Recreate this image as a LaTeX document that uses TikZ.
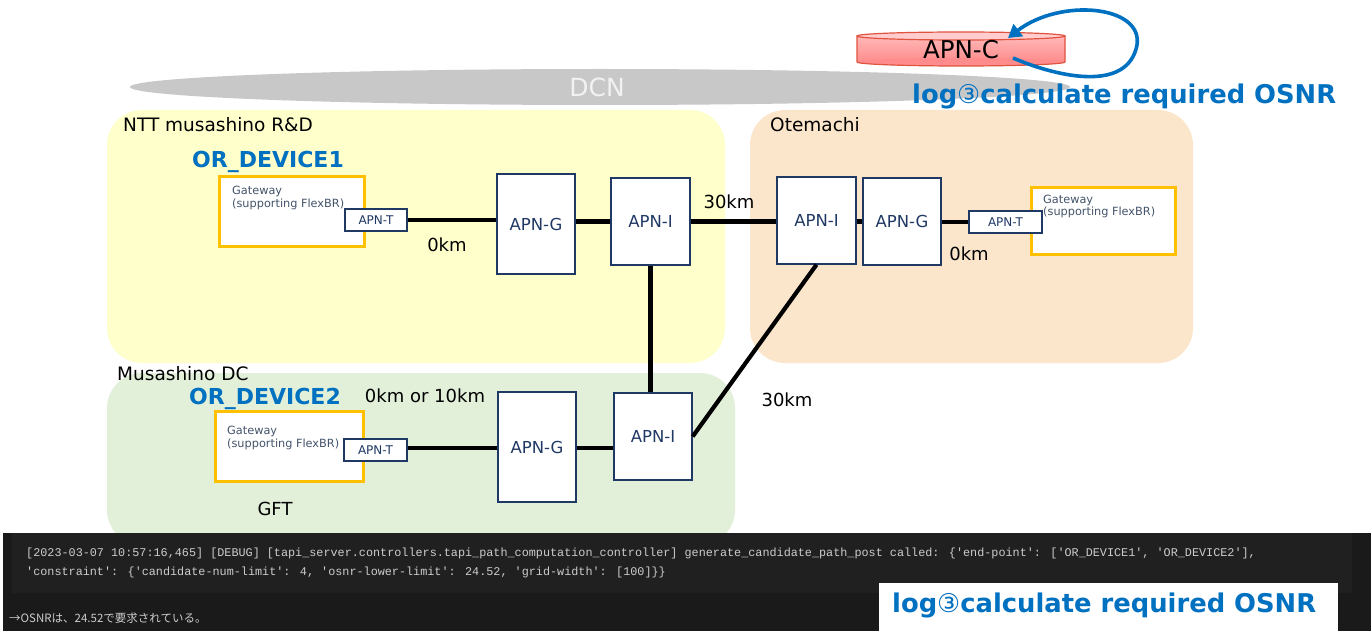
\documentclass[tikz,border=0pt]{standalone}
\usepackage{fontspec}
\setmainfont{DejaVu Sans}
\newfontfamily\codefont{Liberation Mono}[Ligatures=TeXOff]
\newfontfamily\jpfont{Noto Sans CJK JP}
\usetikzlibrary{arrows.meta,calc}
\newcommand\fsz[1]{\fontsize{#1}{#1}\selectfont}
\definecolor{yellowbg}{HTML}{FFFFCC}
\definecolor{orangebg}{HTML}{FCE6CB}
\definecolor{greenbg}{HTML}{E2F0D9}
\definecolor{dcngray}{HTML}{C8C8C8}
\definecolor{oblue}{HTML}{0070C0}
\definecolor{gold}{HTML}{FFC000}
\definecolor{navy}{HTML}{203864}
\definecolor{slate}{HTML}{44546A}
\definecolor{apnctop}{HTML}{FFB8B8}
\definecolor{apncbot}{HTML}{FF8C8C}
\definecolor{apncline}{HTML}{E0533F}
\definecolor{panelbg}{HTML}{1A1A1A}
\definecolor{codebg}{HTML}{202020}
\definecolor{codetxt}{HTML}{CCCCCC}
\begin{document}
\begin{tikzpicture}[x=1pt,y=-1pt,
  region/.style={rounded corners=35pt},
  regionlabel/.style={anchor=west,font=\fsz{18.5},text=black,inner sep=0pt},
  apnbox/.style={draw=navy,line width=1.3pt,fill=white,text=navy,font=\fsz{16.5},inner sep=0pt},
  apnt/.style={draw=navy,line width=1.2pt,fill=white,text=navy,font=\fsz{12},inner sep=0pt,minimum height=22},
  gwbox/.style={draw=gold,line width=3pt,fill=white,inner sep=0pt},
  gwtext/.style={anchor=west,align=left,text=slate,font=\fontsize{11.3}{12.5}\selectfont,inner sep=0pt},
  devlabel/.style={anchor=west,font=\bfseries\fsz{22},text=oblue,inner sep=0pt},
  dist/.style={font=\fsz{18},text=black,inner sep=0pt},
  link/.style={line width=4.2pt,black},
  loglabel/.style={anchor=west,font=\bfseries\fsz{25.8},text=oblue,inner sep=0pt},
  codeline/.style={anchor=west,font=\codefont\fsz{11.8},text=codetxt,inner sep=0pt},
  looparrow/.style={draw=oblue,line width=3.6pt,-{Triangle[length=13pt,width=15pt]}}
]
\useasboundingbox (0,0) rectangle (1371,631);
\fill[white] (0,0) rectangle (1371,631);

% DCN
\fill[dcngray] (600,87) ellipse[x radius=470,y radius=18];
\node[font=\fsz{25},text=white!95!black,inner sep=0pt] (dcn) at (597,87) {DCN};

% APN-C
\shade[top color=apnctop,bottom color=apncbot] (857,36) rectangle (1065,62);
\fill[apncbot] (961,62) ellipse[x radius=104,y radius=4];
\fill[apnctop!70!white] (961,36) ellipse[x radius=104,y radius=4];
\draw[apncline,line width=1.2pt] (961,36) ellipse[x radius=104,y radius=4];
\draw[apncline,line width=1.2pt] (857,36) -- (857,62)
  .. controls (857,64.2) and (903.6,66) .. (961,66)
  .. controls (1018.4,66) and (1065,64.2) .. (1065,62) -- (1065,36);
\node[font=\fsz{24.5},text=black,inner sep=0pt] (apnc) at (961,50) {APN-C};
\coordinate (loopS) at (1013,58);
\coordinate (loopE) at (1008,38);
\draw[looparrow] (loopS) .. controls (1060,78) and (1128,92) .. (1137,45)
  .. controls (1143,5) and (1060,-2) .. (loopE);
\node[loglabel] (logtop) at (912,96) {log{\mdseries ③}calculate required OSNR};

% regions
\fill[yellowbg,region] (107,110) rectangle (725,363);
\fill[orangebg,region] (750,110) rectangle (1193,363);
\fill[greenbg,region] (107,373) rectangle (735,545);
\node[regionlabel] (lbl1) at (123,125) {NTT musashino R\&D};
\node[regionlabel] (lbl2) at (770,125) {Otemachi};
\node[regionlabel] (lbl3) at (117,374) {Musashino DC};

% devices
\node[devlabel] (dev1) at (192,162) {OR\_DEVICE1};
\node[devlabel] (dev2) at (189,399) {OR\_DEVICE2};

\node[gwbox,minimum width=145,minimum height=70] (gw1) at (291.5,212) {};
\node[gwbox,minimum width=144,minimum height=67] (gw2) at (1103,221.5) {};
\node[gwbox,minimum width=148,minimum height=70] (gw3) at (289,446) {};
\node[gwtext] (gw1t) at (232,198) {Gateway\\(supporting FlexBR)};
\node[gwtext] (gw2t) at (1043,206.5) {Gateway\\(supporting FlexBR)};
\node[gwtext] (gw3t) at (227,438) {Gateway\\(supporting FlexBR)};

\node[apnt,minimum width=62] (t1) at (376,220) {APN-T};
\node[apnt,minimum width=73] (t2) at (1005.5,222) {APN-T};
\node[apnt,minimum width=63] (t3) at (375.5,450) {APN-T};

\node[apnbox,minimum width=78,minimum height=100] (g1) at (536,224) {APN-G};
\node[apnbox,minimum width=79,minimum height=87] (i1) at (650.5,221.5) {APN-I};
\node[apnbox,minimum width=79,minimum height=87] (i2) at (816.5,220.5) {APN-I};
\node[apnbox,minimum width=78,minimum height=87] (g2) at (902,221.5) {APN-G};
\node[apnbox,minimum width=78,minimum height=110] (g3) at (537,447) {APN-G};
\node[apnbox,minimum width=78,minimum height=87] (i3) at (653,436.5) {APN-I};

% links
\draw[link] (t1.east) -- (t1.east -| g1.west);
\draw[link] (g1.east |- i1.west) -- (i1.west);
\draw[link] (i1.east) -- (i1.east -| i2.west);
\draw[link] (i2.east |- g2.west) -- (g2.west);
\draw[link] (g2.east |- t2.west) -- (t2.west);
\draw[link] (i1.south) -- (i1.south |- i3.north);
\draw[link] (i2.south) -- (i3.east);
\draw[link] (t3.east |- 0,448) -- (g3.west |- 0,448);
\draw[link] (g3.east |- 0,448) -- (i3.west |- 0,448);

% distance labels
\node[dist] (d1) at (447,245) {0km};
\node[dist] (d2) at (729,202) {30km};
\node[dist] (d3) at (969,254) {0km};
\node[dist] (d4) at (425,396) {0km or 10km};
\node[dist] (d5) at (787,400) {30km};
\node[dist] (d6) at (275,509) {GFT};

% bottom console panel
\fill[panelbg] (3,533) rectangle (1371,631);
\fill[codebg] (12,533) rectangle (1352,593);
\node[codeline] (c1) at (26,553) {[2023-03-07 10:57:16,465] [DEBUG] [tapi\_server.controllers.tapi\_path\_computation\_controller] generate\_candidate\_path\_post called: \{'end-point': ['OR\_DEVICE1', 'OR\_DEVICE2'],};
\node[codeline] (c2) at (26,572) {'constraint': \{'candidate-num-limit': 4, 'osnr-lower-limit': 24.52, 'grid-width': [100]\}\}};
\node[anchor=west,font=\jpfont\fsz{11.5},text=codetxt,inner sep=0pt] (jp) at (9,618) {→OSNRは、24.52で要求されている。};
\fill[white] (879,583) rectangle (1338,631);
\node[loglabel] (logbot) at (892,605) {log{\mdseries ③}calculate required OSNR};
\end{tikzpicture}
\end{document}
